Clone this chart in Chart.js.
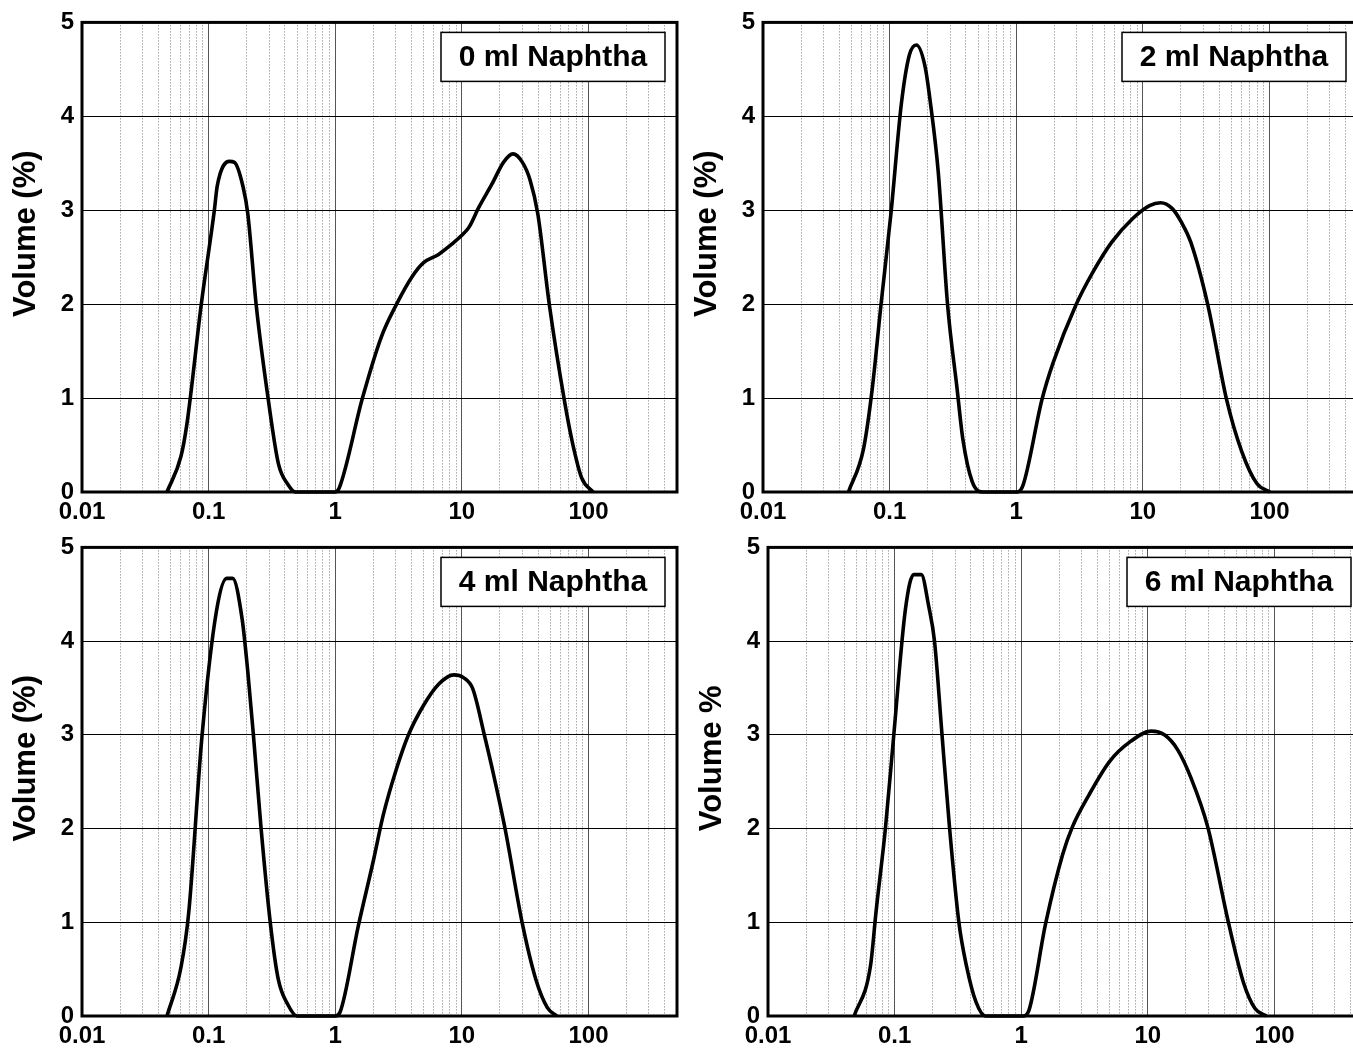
<!DOCTYPE html>
<html><head><meta charset="utf-8">
<script src="https://cdn.jsdelivr.net/npm/chart.js@4.4.1/dist/chart.umd.min.js"></script>
<style>
html,body{margin:0;padding:0;background:#fff;overflow:hidden;width:1353px;height:1052px;position:relative;}
canvas{position:absolute;}
</style></head><body>
<canvas id="c0" width="700" height="532" style="left:0px;top:0px"></canvas>
<canvas id="c1" width="700" height="532" style="left:681px;top:0px"></canvas>
<canvas id="c2" width="700" height="531" style="left:0px;top:525px"></canvas>
<canvas id="c3" width="700" height="531" style="left:686px;top:525px"></canvas>
<script>
// ---- data (particle size in µm, volume %) ----
const sizes0 = [0.0469,0.0605,0.0673,0.0875,0.111,0.117,0.146,0.160,0.187,0.204,0.238,0.299,0.356,0.423,0.485,
  1.0,1.08,1.64,2.31,3.05,4.03,4.96,6.55,8.35,9.94,11.4,13.6,17.3,21.3,25.3,30.1,34.6,39.8,49.0,64.6,74.3,88.3,108.7];
const vol0 = [0,0.38,0.72,2.0,3.0,3.26,3.52,3.51,3.25,2.96,1.98,0.94,0.30,0.08,0,
  0,0.05,1.0,1.65,2.0,2.29,2.44,2.53,2.64,2.73,2.82,3.03,3.28,3.51,3.60,3.51,3.32,2.96,2.0,0.97,0.54,0.15,0];

const sizes2 = [0.0473,0.0622,0.0729,0.0854,0.1027,0.1237,0.143,0.1626,0.1905,0.211,0.242,0.287,0.341,0.378,0.449,0.551,
  1.02,1.13,1.6,1.96,2.96,4.03,5.68,8.28,11.3,13.8,17.0,20.2,23.9,32.6,45.9,60.4,79.5,101];
const vol2 = [0,0.46,1.10,1.99,2.98,4.13,4.65,4.76,4.53,4.12,3.41,1.99,1.10,0.57,0.11,0,
  0,0.07,0.99,1.38,1.99,2.34,2.66,2.91,3.05,3.08,3.02,2.87,2.66,1.99,0.98,0.43,0.09,0];

const sizes4 = [0.0469,0.0605,0.0696,0.0887,0.1156,0.139,0.1546,0.1837,0.204,0.226,0.260,0.309,0.355,0.423,0.50,
  1.0,1.09,1.52,2.01,2.39,3.05,3.76,4.96,6.55,8.65,10.3,12.2,15.1,17.9,22.0,30.1,38.4,47.3,56.2];
const vol4 = [0,0.52,1.10,2.99,4.33,4.67,4.67,4.24,3.67,2.99,1.99,0.96,0.39,0.12,0,
  0,0.04,0.96,1.67,2.14,2.64,2.99,3.31,3.54,3.64,3.61,3.49,2.99,2.56,1.99,0.98,0.39,0.09,0];

const sizes6 = [0.0479,0.0644,0.0713,0.0847,0.0985,0.1217,0.1415,0.1624,0.186,0.2065,0.2368,0.2714,0.3224,0.370,0.439,0.521,
  1.035,1.15,1.56,2.12,2.52,3.43,5.01,7.3,10.6,13.5,17.2,21.9,29.8,43.4,57.1,70.2,86.1];
const vol6 = [0,0.53,1.11,2.01,3.0,4.34,4.71,4.71,4.37,4.0,3.0,2.01,0.99,0.53,0.15,0,
  0,0.06,0.99,1.72,2.01,2.36,2.72,2.93,3.04,3.0,2.84,2.54,2.01,0.99,0.35,0.08,0];

const panelLabels = ['0 ml Naphtha','2 ml Naphtha','4 ml Naphtha','6 ml Naphtha'];
const yTitles = ['Volume (%)','Volume (%)','Volume (%)','Volume %'];
const xMajorTicks = [0.01,0.1,1,10,100];
const xTickLabels = ['0.01','0.1','1','10','100'];
const yTicks = [0,1,2,3,4,5];
const yTickLabels = ['0','1','2','3','4','5'];
const xMin = 0.01, xMax = 500;

const xMinorTicks = [];
for (const d of [0.01,0.1,1,10,100]) for (let m=2;m<=9;m++){ const v=+(d*m).toPrecision(3); if (v<xMax) xMinorTicks.push(v); }

const FONT = '"Liberation Sans", Arial, sans-serif';

const deco = {
  id:'panelDeco',
  afterDraw(chart, args, opts){
    const {ctx, chartArea:a} = chart;
    ctx.save();
    ctx.lineWidth = 3; ctx.strokeStyle = '#000';
    ctx.strokeRect(a.left, a.top, a.right-a.left, a.bottom-a.top);
    const w = 224, h = 49;
    const bx = a.right - 12 - w, by = a.top + 10;
    ctx.fillStyle = '#fff'; ctx.fillRect(bx, by, w, h);
    ctx.lineWidth = 1.5; ctx.strokeRect(bx, by, w, h);
    ctx.fillStyle = '#000';
    ctx.font = 'bold 30px ' + FONT;
    ctx.textAlign = 'center'; ctx.textBaseline = 'middle';
    ctx.fillText(opts.label, bx + w/2, by + h/2 + 1);
    ctx.translate(a.left - 56, a.top + 0.45*(a.bottom - a.top));
    ctx.rotate(-Math.PI/2);
    ctx.font = 'bold 31px ' + FONT;
    ctx.fillText(opts.yTitle, 0, 0);
    ctx.restore();
  }
};

function makeChart(id, xs, ys, idx){
  const pts = xs.map((x,i)=>({x:x, y:ys[i]}));
  return new Chart(document.getElementById(id), {
    type:'line',
    data:{datasets:[{data:pts, borderColor:'#000', borderWidth:3.6, pointRadius:0,
      cubicInterpolationMode:'monotone', fill:false, clip:6}]},
    options:{
      responsive:false, animation:false, devicePixelRatio:1,
      layout:{padding:{top:20,right:23,left:0,bottom:0}},
      plugins:{legend:{display:false}, tooltip:{enabled:false},
        panelDeco:{label:panelLabels[idx], yTitle:yTitles[idx]}},
      scales:{
        x:{type:'logarithmic', min:xMin, max:xMax, position:'bottom',
          afterBuildTicks:s=>{ s.ticks = xMajorTicks.map(v=>({value:v, major:true})); },
          afterFit:s=>{ s.height = 40; },
          ticks:{autoSkip:false, maxRotation:0, minRotation:0, color:'#000', padding:6,
            font:{family:FONT, size:24, weight:'bold'},
            callback:(v,i)=>xTickLabels[i]},
          grid:{color:'#555', lineWidth:1, drawTicks:false},
          border:{display:false}
        },
        xMinor:{type:'logarithmic', min:xMin, max:xMax, position:'bottom',
          afterBuildTicks:s=>{ s.ticks = xMinorTicks.map(v=>({value:v})); },
          afterFit:s=>{ s.height = 0; },
          ticks:{display:false},
          grid:{color:'#7a7a7a', lineWidth:1, drawTicks:false},
          border:{display:false, dash:[1,2]}
        },
        y:{type:'linear', min:0, max:5,
          afterBuildTicks:s=>{ s.ticks = yTicks.map(v=>({value:v})); },
          afterFit:s=>{ s.width = 82; },
          ticks:{color:'#000', padding:8, font:{family:FONT, size:24, weight:'bold'},
            callback:(v,i)=>yTickLabels[i]},
          grid:{color:'#000', lineWidth:1, drawTicks:false},
          border:{display:false}
        }
      }
    },
    plugins:[deco]
  });
}

makeChart('c0', sizes0, vol0, 0);
makeChart('c1', sizes2, vol2, 1);
makeChart('c2', sizes4, vol4, 2);
makeChart('c3', sizes6, vol6, 3);
</script>
</body></html>
